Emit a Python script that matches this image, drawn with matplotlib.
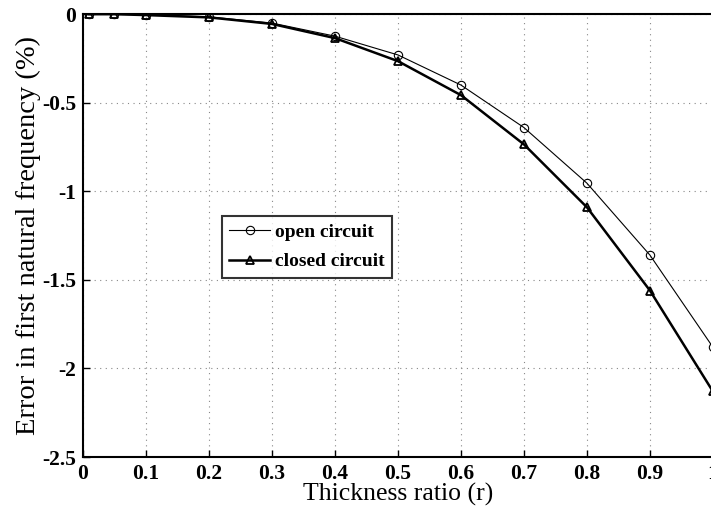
import numpy as np
import matplotlib.pyplot as plt

plt.rcParams['font.family'] = ['Liberation Serif', 'DejaVu Serif']

# thickness ratio values
r = [0.01, 0.05, 0.1, 0.2, 0.3, 0.4, 0.5, 0.6, 0.7, 0.8, 0.9, 1.0]
# error in first natural frequency (%)
open_circuit = [0.0, 0.0, -0.003, -0.015, -0.05, -0.124, -0.23, -0.40, -0.64, -0.954, -1.36, -1.88]
closed_circuit = [0.0, 0.0, -0.005, -0.018, -0.055, -0.135, -0.265, -0.457, -0.735, -1.09, -1.56, -2.13]

xticks = [0, 0.1, 0.2, 0.3, 0.4, 0.5, 0.6, 0.7, 0.8, 0.9, 1.0]
xtick_labels = ['0', '0.1', '0.2', '0.3', '0.4', '0.5', '0.6', '0.7', '0.8', '0.9', '1']
yticks = [0, -0.5, -1, -1.5, -2, -2.5]
ytick_labels = ['0', '-0.5', '-1', '-1.5', '-2', '-2.5']

fig = plt.figure(figsize=(7.11, 5.07), dpi=100)
ax = fig.add_axes([0.1167, 0.0986, 0.886, 0.8734])

ax.plot(r, open_circuit, color='black', lw=0.8, marker='o', ms=6,
        mfc='none', mec='black', mew=0.8, label='open circuit')
ax.plot(r, closed_circuit, color='black', lw=1.8, marker='^', ms=6,
        mfc='none', mec='black', mew=1.3, label='closed circuit')

ax.set_xlim(0, 1)
ax.set_ylim(-2.5, 0)
ax.set_xticks(xticks)
ax.set_xticklabels(xtick_labels)
ax.set_yticks(yticks)
ax.set_yticklabels(ytick_labels)
ax.tick_params(direction='in', length=5, width=1, labelsize=15.5, pad=5)
for lbl in ax.get_xticklabels() + ax.get_yticklabels():
    lbl.set_fontweight('bold')

ax.grid(True, linestyle=(0, (1, 4)), color='#888888', lw=0.8)
for s in ax.spines.values():
    s.set_linewidth(1.5)

ax.set_xlabel('Thickness ratio (r)', fontsize=18.5, labelpad=-1)
ax.set_ylabel('Error in first natural frequency (%)', fontsize=20.5, labelpad=1)

leg = ax.legend(loc='lower left', bbox_to_anchor=(0.22, 0.404),
                prop={'weight': 'bold', 'size': 14}, frameon=True, fancybox=False,
                edgecolor='black', handlelength=2.1, borderpad=0.4,
                labelspacing=0.6, handletextpad=0.25, borderaxespad=0)
leg.get_frame().set_linewidth(1.5)

fig.savefig('out.png', dpi=100)
